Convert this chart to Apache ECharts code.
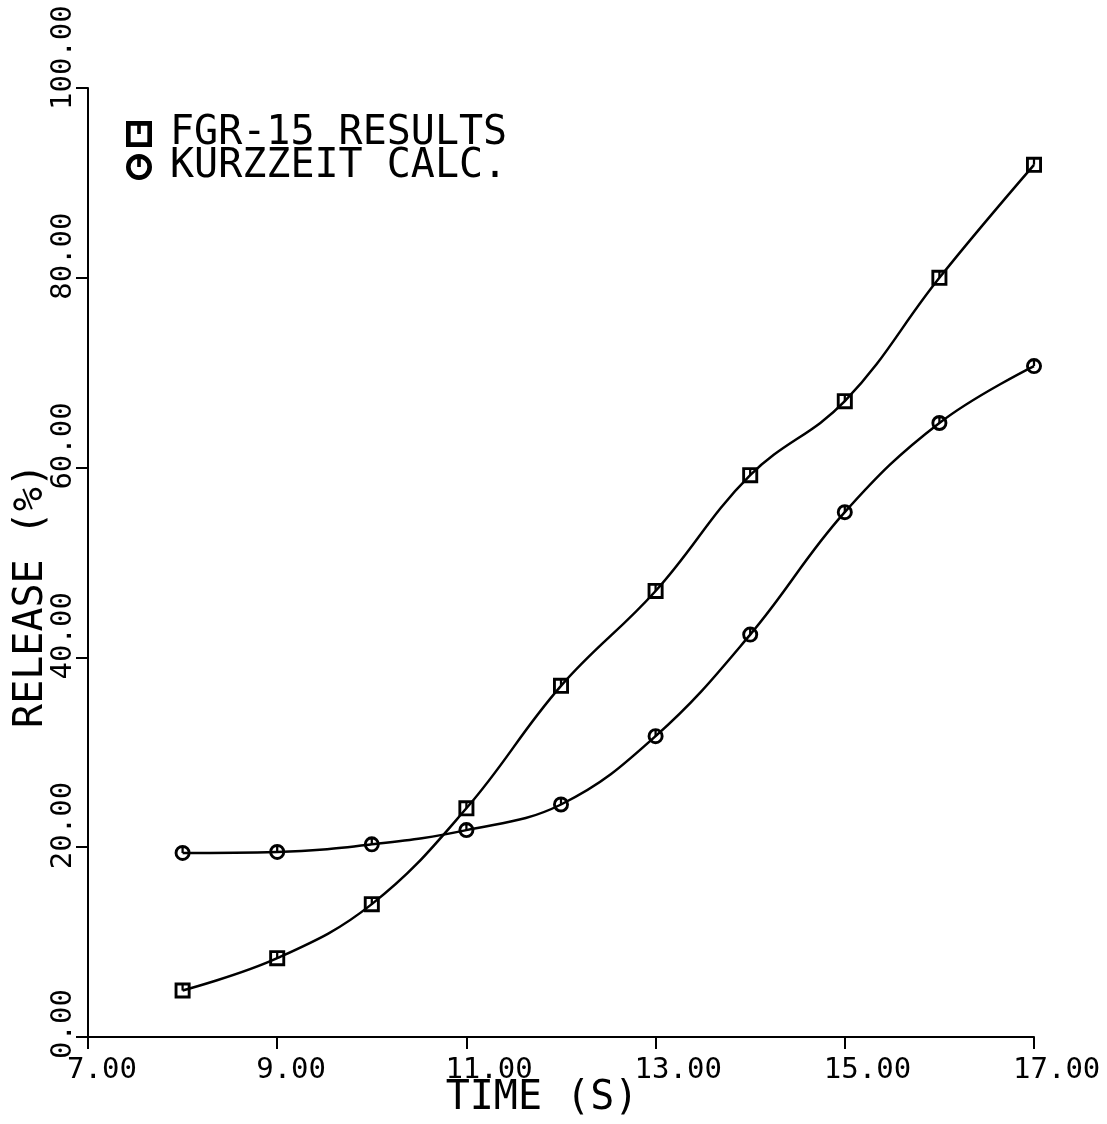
<!DOCTYPE html>
<html>
<head>
<meta charset="utf-8">
<script src="https://cdn.jsdelivr.net/npm/echarts@6/dist/echarts.min.js"></script>
<style>
html,body{margin:0;padding:0;background:#fff;}
#c{width:1107px;height:1124px;}
</style>
</head>
<body>
<div id="c"></div>
<script>
// ---- data ----
var timeS = [8, 9, 10, 11, 12, 13, 14, 15, 16, 17];
var fgr15 = [4.9, 8.3, 14.0, 24.1, 37.0, 47.0, 59.2, 67.0, 80.0, 91.9];
var kurzzeit = [19.4, 19.5, 20.3, 21.8, 24.5, 31.7, 42.4, 55.3, 64.7, 70.7];
var seriesNames = ['FGR-15 RESULTS', 'KURZZEIT CALC.'];
var xTitle = 'TIME (S)';
var yTitle = 'RELEASE (%)';

function pairs(xs, ys) { return xs.map(function (x, i) { return [x, ys[i]]; }); }

var FONT = '"DejaVu Sans Mono", "Liberation Mono", monospace';
var SQ = 'path://M0,0H10V10H0Z M1.8,1.8V8.2H8.2V1.8Z M4.3,0.5H5.7V5H4.3Z';
var CI = 'path://M5,0A5,5 0 1,1 5,10A5,5 0 1,1 5,0Z M5,1.8A3.2,3.2 0 1,0 5,8.2A3.2,3.2 0 1,0 5,1.8Z M4.3,0.5H5.7V5H4.3Z';

var chart = echarts.init(document.getElementById('c'));
chart.setOption({
  animation: false,
  backgroundColor: '#fff',
  grid: { left: 88, right: 73, top: 88, bottom: 87, containLabel: false, outerBoundsMode: 'none' },
  legend: {
    orient: 'vertical', left: 121, top: 109,
    itemWidth: 26, itemHeight: 26, itemGap: -7,
    data: [{ name: seriesNames[0], icon: SQ }, { name: seriesNames[1], icon: CI }],
    textStyle: { fontFamily: FONT, fontSize: 40, color: '#000', padding: [0, 0, 0, 13] },
    selectedMode: false
  },
  xAxis: {
    type: 'value', min: 7, max: 17, interval: 2,
    name: xTitle, nameLocation: 'middle', nameGap: 42, nameMoveOverlap: false,
    nameTextStyle: { fontFamily: FONT, fontSize: 40, color: '#000', padding: [0, 38, 0, 0] },
    axisLine: { show: true, lineStyle: { color: '#000', width: 2 } },
    axisTick: { show: true, length: 12, lineStyle: { color: '#000', width: 2 } },
    splitLine: { show: false },
    axisLabel: {
      show: true, showMinLabel: true, showMaxLabel: true,
      fontFamily: FONT, fontSize: 29, color: '#000', margin: 19,
      align: 'left', padding: [0, 0, 0, -21],
      formatter: function (v) { return v.toFixed(2); }
    }
  },
  yAxis: {
    type: 'value', min: 0, max: 100, interval: 20,
    name: yTitle, nameLocation: 'middle', nameGap: 36, nameRotate: 90, nameMoveOverlap: false,
    nameTextStyle: { fontFamily: FONT, fontSize: 40, color: '#000', padding: [0, 66, 0, 0] },
    axisLine: { show: true, lineStyle: { color: '#000', width: 2 } },
    axisTick: { show: true, length: 12, lineStyle: { color: '#000', width: 2 } },
    splitLine: { show: false },
    axisLabel: {
      show: true, showMinLabel: true, showMaxLabel: true,
      rotate: 90, fontFamily: FONT, fontSize: 29, color: '#000', margin: 10,
      align: 'left', padding: [0, 0, 0, -22],
      formatter: function (v) { return v.toFixed(2); }
    }
  },
  series: [
    {
      name: seriesNames[0], type: 'line', data: pairs(timeS, fgr15),
      smooth: 0.4, symbol: SQ, symbolSize: 16, showAllSymbol: true,
      lineStyle: { color: '#000', width: 2.5 },
      itemStyle: { color: '#000' }
    },
    {
      name: seriesNames[1], type: 'line', data: pairs(timeS, kurzzeit),
      smooth: 0.4, symbol: CI, symbolSize: 16, showAllSymbol: true,
      lineStyle: { color: '#000', width: 2.5 },
      itemStyle: { color: '#000' }
    }
  ]
});
</script>
</body>
</html>
